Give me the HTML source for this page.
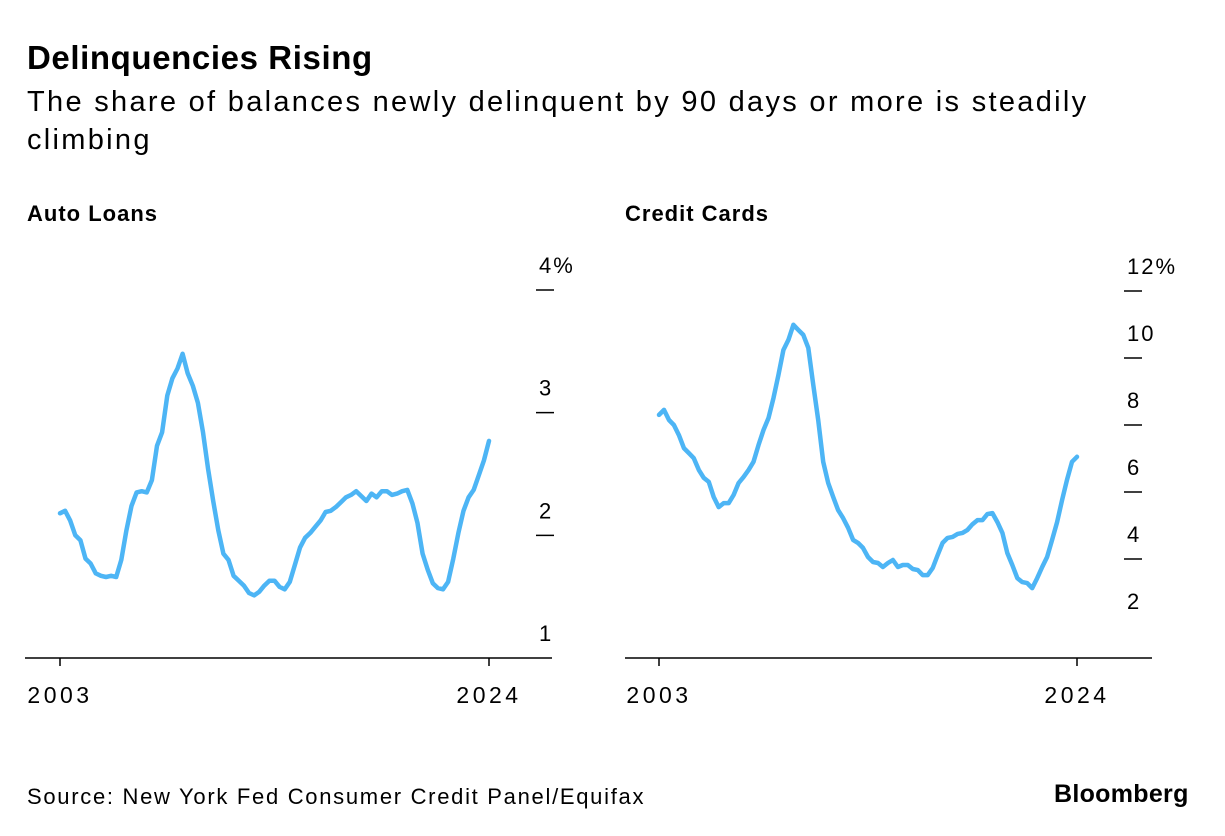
<!DOCTYPE html>
<html><head><meta charset="utf-8">
<style>
body{margin:0;width:1225px;height:836px;background:#fff;font-family:"Liberation Sans",sans-serif;color:#000;overflow:hidden;position:relative}
.t{position:absolute;white-space:nowrap}
</style></head><body>
<div class="t" style="left:27px;top:39px;font-size:33px;letter-spacing:0.6px;font-weight:bold">Delinquencies Rising</div>
<div class="t" style="left:27px;top:83px;font-size:29px;letter-spacing:2.3px;line-height:38px;white-space:normal;width:1150px">The share of balances newly delinquent by 90 days or more is steadily climbing</div>
<div class="t" style="left:27px;top:201px;font-size:22px;letter-spacing:1px;font-weight:bold">Auto Loans</div>
<div class="t" style="left:625px;top:201px;font-size:22px;letter-spacing:1px;font-weight:bold">Credit Cards</div>
<div class="t" style="left:27px;top:784px;font-size:22px;letter-spacing:1.7px">Source: New York Fed Consumer Credit Panel/Equifax</div>
<div class="t" style="left:1054px;top:780px;font-size:25px;letter-spacing:0.3px;font-weight:bold">Bloomberg</div>
<svg id="svg" width="1225" height="836" style="position:absolute;left:0;top:0"></svg>
<script>
const autoValues=[2.18,2.20,2.12,2.00,1.96,1.81,1.77,1.69,1.67,1.66,1.67,1.66,1.80,2.04,2.24,2.35,2.36,2.35,2.45,2.73,2.84,3.14,3.28,3.36,3.48,3.32,3.22,3.08,2.84,2.54,2.28,2.04,1.85,1.80,1.67,1.63,1.59,1.53,1.51,1.54,1.59,1.63,1.63,1.58,1.56,1.62,1.76,1.90,1.98,2.02,2.07,2.12,2.19,2.20,2.23,2.27,2.31,2.33,2.36,2.32,2.28,2.34,2.31,2.36,2.36,2.33,2.34,2.36,2.37,2.26,2.10,1.85,1.72,1.61,1.57,1.56,1.62,1.81,2.02,2.20,2.31,2.37,2.49,2.61,2.77];
const cardValues=[8.30,8.45,8.15,8.0,7.70,7.31,7.16,7.01,6.66,6.42,6.30,5.85,5.55,5.67,5.67,5.91,6.27,6.45,6.66,6.90,7.40,7.85,8.21,8.81,9.49,10.24,10.54,10.99,10.84,10.69,10.30,9.19,8.15,6.90,6.27,5.85,5.46,5.22,4.93,4.57,4.48,4.33,4.06,3.91,3.88,3.76,3.88,3.97,3.76,3.82,3.82,3.70,3.67,3.52,3.52,3.73,4.12,4.48,4.63,4.66,4.75,4.78,4.87,5.04,5.16,5.16,5.34,5.37,5.10,4.78,4.18,3.82,3.43,3.31,3.28,3.13,3.43,3.76,4.06,4.57,5.10,5.76,6.36,6.90,7.05];
const autoTicks=[1,2,3,4];
const autoTickLabels=["1","2","3","4%"];
const cardTicks=[2,4,6,8,10,12];
const cardTickLabels=["2","4","6","8","10","12%"];
const xLabels=["2003","2024"];
const NS="http://www.w3.org/2000/svg";
const svg=document.getElementById('svg');
function el(tag,attrs){const e=document.createElementNS(NS,tag);for(const k in attrs)e.setAttribute(k,attrs[k]);svg.appendChild(e);return e;}
function draw(p){
  const x=i=>p.x0+(p.x1-p.x0)*i/(p.vals.length-1);
  const y=v=>p.yA+(v-p.vA)*(p.yB-p.yA)/(p.vB-p.vA);
  const ax=el('line',{x1:p.axL,x2:p.axR,y1:658,y2:658,stroke:'#000','stroke-width':1.5});
  
  
  [p.x0,p.x1].forEach((xx,k)=>{
    const tk=el('line',{x1:xx,x2:xx,y1:658,y2:666,stroke:'#000','stroke-width':1.5});
    
    
    const t=el('text',{x:xx,y:703,'text-anchor':'middle','font-size':23,'letter-spacing':3.5,'font-family':'Liberation Sans, sans-serif'});
    t.textContent=xLabels[k];
    
    
  });
  p.ticks.forEach((v,k)=>{
    const yy=y(v);
    if(p.drawTick(v)){
      const tk=el('line',{x1:p.tx,x2:p.tx+18,y1:yy,y2:yy,stroke:'#000','stroke-width':1.5});
      
      
    }
    const t=el('text',{x:p.tx+3,y:yy-17,'font-size':22,'letter-spacing':2,'font-family':'Liberation Sans, sans-serif'});
    t.textContent=p.labels[k];
    
    
  });
  const d=p.vals.map((v,i)=>(i?'L':'M')+x(i).toFixed(1)+' '+y(v).toFixed(1)).join(' ');
  const path=el('path',{d:d,fill:'none',stroke:'#4db5f5','stroke-width':4.5,'stroke-linejoin':'round','stroke-linecap':'round'});
  
  
}
draw({name:'auto-loans',vals:autoValues,x0:60,x1:489,axL:25,axR:552,yA:658,vA:1,yB:290,vB:4,ticks:autoTicks,labels:autoTickLabels,tx:536,drawTick:v=>v!==1});
draw({name:'credit-cards',vals:cardValues,x0:659,x1:1077,axL:625,axR:1152,yA:626,vA:2,yB:291,vB:12,ticks:cardTicks,labels:cardTickLabels,tx:1124,drawTick:v=>v!==2});
</script>
</body></html>
